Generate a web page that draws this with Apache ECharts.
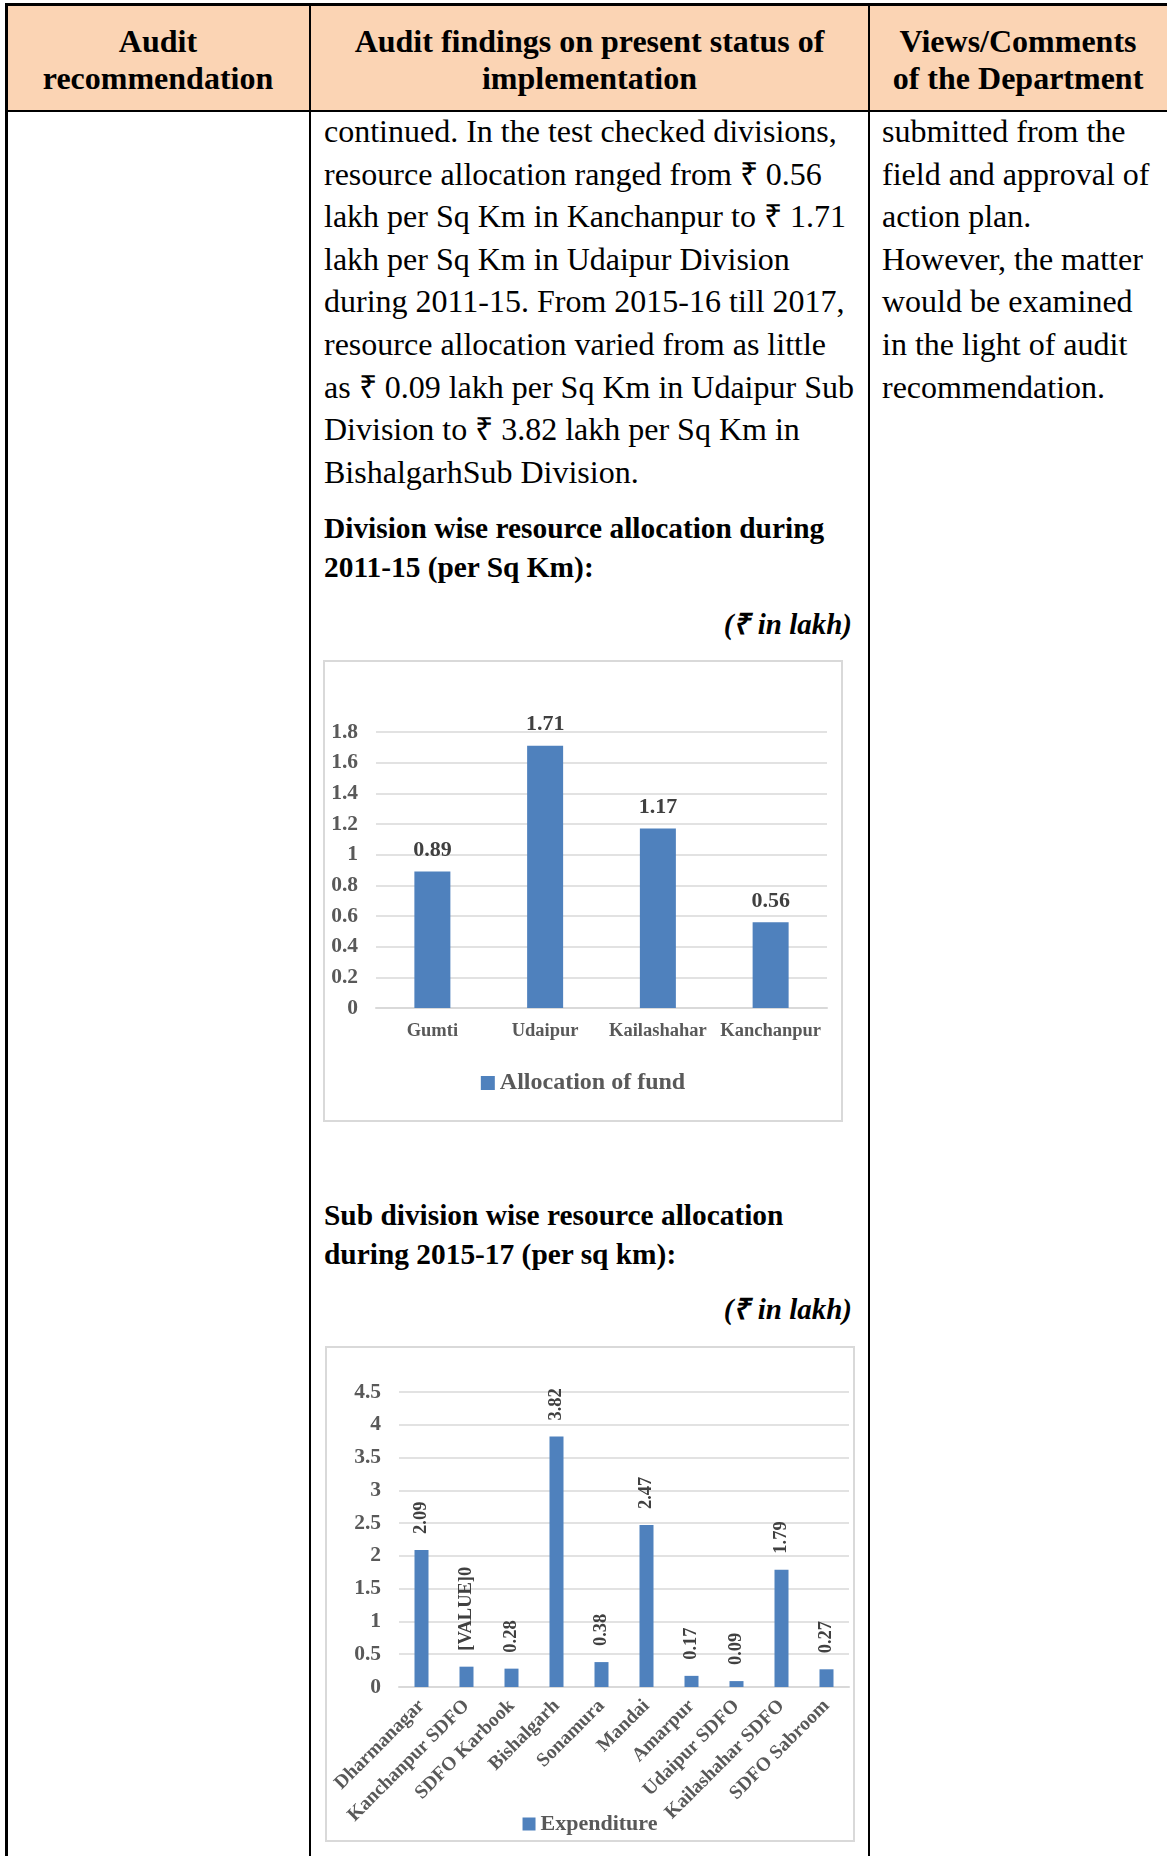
<!DOCTYPE html>
<html>
<head>
<meta charset="utf-8">
<script src="https://cdn.jsdelivr.net/npm/echarts@6/dist/echarts.min.js"></script>
<style>
  html, body { margin: 0; padding: 0; background: #fff; }
  body { width: 1167px; height: 1856px; position: relative; overflow: hidden;
         font-family: 'Liberation Serif', 'Times New Roman', serif; color: #000; }
  .abs { position: absolute; white-space: nowrap; }
  .hdr { background: #fbd4b4; }
  .hcell { position: absolute; top: 7px; height: 106px; display: flex; align-items: center;
           justify-content: center; text-align: center; font-weight: bold; font-size: 32px; line-height: 37px; }
  .line { position: absolute; background: #000; }
  .txt { font-size: 32px; line-height: 42.6px; }
  .head { font-size: 29.4px; line-height: 39px; font-weight: bold; }
  .unit { font-size: 29px; font-weight: bold; font-style: italic; text-align: right; }
  .chartbox { position: absolute; border: 2px solid #d9d9d9; box-sizing: border-box; }
</style>
</head>
<body>
  <div class="abs hdr" style="left:6px;top:5px;width:1170px;height:106px;"></div>
  <div class="hcell" style="left:6px;width:304px;">Audit<br>recommendation</div>
  <div class="hcell" style="left:310px;width:559px;">Audit findings on present status of<br>implementation</div>
  <div class="hcell" style="left:869px;width:298px;">Views/Comments<br>of the Department</div>

  <div class="line" style="left:5px;top:3px;width:1170px;height:3px;"></div>
  <div class="line" style="left:5px;top:3px;width:3px;height:1860px;"></div>
  <div class="line" style="left:309px;top:3px;width:2px;height:1860px;"></div>
  <div class="line" style="left:868px;top:3px;width:2px;height:1860px;"></div>
  <div class="line" style="left:5px;top:110px;width:1170px;height:2px;"></div>

  <div class="abs txt" style="left:324px;top:110px;">continued. In the test checked divisions,<br>resource allocation ranged from &#8377; 0.56<br>lakh per Sq Km in Kanchanpur to &#8377; 1.71<br>lakh per Sq Km in Udaipur Division<br>during 2011-15. From 2015-16 till 2017,<br>resource allocation varied from as little<br>as &#8377; 0.09 lakh per Sq Km in Udaipur Sub<br>Division to &#8377; 3.82 lakh per Sq Km in<br>BishalgarhSub Division.</div>
  <div class="abs txt" style="left:882px;top:110px;">submitted from the<br>field and approval of<br>action plan.<br>However, the matter<br>would be examined<br>in the light of audit<br>recommendation.</div>

  <div class="abs head" style="left:324px;top:509px;">Division wise resource allocation during<br>2011-15 (per Sq Km):</div>
  <div class="abs unit" style="right:315px;top:607px;line-height:34px;">(&#8377; in lakh)</div>
  <div class="chartbox" style="left:323px;top:660px;width:520px;height:462px;"><div id="chartOne" style="width:516px;height:458px;"></div></div>

  <div class="abs head" style="left:324px;top:1196px;">Sub division wise resource allocation<br>during 2015-17 (per sq km):</div>
  <div class="abs unit" style="right:315px;top:1292px;line-height:34px;">(&#8377; in lakh)</div>
  <div class="chartbox" style="left:325px;top:1346px;width:530px;height:496px;"><div id="chartTwo" style="width:526px;height:492px;"></div></div>

<script>
// 2011-15 division wise allocation
const divisionNames = ['Gumti', 'Udaipur', 'Kailashahar', 'Kanchanpur']
const divisionAllocation = [0.89, 1.71, 1.17, 0.56]
const divisionTicks = [0, 0.2, 0.4, 0.6, 0.8, 1, 1.2, 1.4, 1.6, 1.8]

// 2015-17 sub division wise allocation
const subDivisionNames = ['Dharmanagar', 'Kanchanpur SDFO', 'SDFO Karbook', 'Bishalgarh', 'Sonamura',
  'Mandai', 'Amarpur', 'Udaipur SDFO', 'Kailashahar SDFO', 'SDFO Sabroom']
const subDivisionExpenditure = [2.09, 0.31, 0.28, 3.82, 0.38, 2.47, 0.17, 0.09, 1.79, 0.27]
const subDivisionLabels = ['2.09', '[VALUE]0', '0.28', '3.82', '0.38', '2.47', '0.17', '0.09', '1.79', '0.27']
const subDivisionTicks = [0, 0.5, 1, 1.5, 2, 2.5, 3, 3.5, 4, 4.5]

const fontName = 'Liberation Serif'
const barColor = '#4f81bd'
const gridColor = '#d9d9d9'

function valueAxis (ticks, margin) {
  return {
    type: 'value',
    min: ticks[0],
    max: ticks[ticks.length - 1],
    interval: ticks[1] - ticks[0],
    axisLine: { show: false },
    axisTick: { show: false },
    splitLine: { lineStyle: { color: gridColor, width: 1.5 } },
    axisLabel: {
      color: '#595959', fontFamily: fontName, fontWeight: 'bold', fontSize: 21.5, margin: margin,
      formatter: (v) => String(+v.toFixed(1))
    }
  }
}

let chartOne = echarts.init(document.getElementById('chartOne'))
chartOne.setOption({
  animation: false,
  grid: { left: 51, right: 14, top: 70, bottom: 112 },
  legend: {
    data: ['Allocation of fund'],
    top: 404,
    left: 'center',
    icon: 'rect',
    itemWidth: 14,
    itemHeight: 14,
    itemGap: 3,
    textStyle: { color: '#595959', fontFamily: fontName, fontWeight: 'bold', fontSize: 24 }
  },
  xAxis: {
    type: 'category',
    data: divisionNames,
    axisLine: { lineStyle: { color: gridColor, width: 2 } },
    axisTick: { show: false },
    axisLabel: { interval: 0, color: '#595959', fontFamily: fontName, fontWeight: 'bold', fontSize: 18.5, margin: 14 }
  },
  yAxis: valueAxis(divisionTicks, 18),
  series: [{
    name: 'Allocation of fund',
    type: 'bar',
    data: divisionAllocation,
    barWidth: 36,
    itemStyle: { color: barColor },
    label: {
      show: true,
      position: 'top',
      distance: 10,
      color: '#404040',
      fontFamily: fontName,
      fontWeight: 'bold',
      fontSize: 22
    }
  }]
})

let chartTwo = echarts.init(document.getElementById('chartTwo'))
chartTwo.setOption({
  animation: false,
  grid: { left: 72, right: 4, top: 44, bottom: 153 },
  legend: {
    data: ['Expenditure'],
    top: 460,
    left: 'center',
    icon: 'rect',
    itemWidth: 13,
    itemHeight: 13,
    itemGap: 3,
    textStyle: { color: '#595959', fontFamily: fontName, fontWeight: 'bold', fontSize: 22 }
  },
  xAxis: {
    type: 'category',
    data: subDivisionNames,
    axisLine: { lineStyle: { color: gridColor, width: 2 } },
    axisTick: { show: false },
    axisLabel: {
      interval: 0, rotate: 45, color: '#595959', fontFamily: fontName,
      fontWeight: 'bold', fontSize: 19.5, margin: 16
    }
  },
  yAxis: valueAxis(subDivisionTicks, 18),
  series: [{
    name: 'Expenditure',
    type: 'bar',
    data: subDivisionExpenditure,
    barWidth: 14,
    itemStyle: { color: barColor },
    label: {
      show: true,
      position: 'top',
      rotate: 90,
      align: 'left',
      verticalAlign: 'middle',
      distance: 16,
      color: '#404040',
      fontFamily: fontName,
      fontWeight: 'bold',
      fontSize: 18.5,
      formatter: (p) => subDivisionLabels[p.dataIndex]
    }
  }]
})
</script>
</body>
</html>
